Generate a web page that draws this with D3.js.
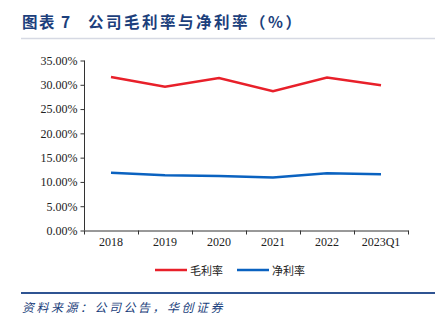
<!DOCTYPE html>
<html><head><meta charset="utf-8">
<script src="https://cdn.jsdelivr.net/npm/d3@7"></script>
<style>body{margin:0;background:#fff}svg{display:block}</style>
</head><body>
<svg id="c" width="446" height="322"></svg>
<script>
const categories = ["2018","2019","2020","2021","2022","2023Q1"];
const grossMargin = [31.6, 29.6, 31.4, 28.7, 31.5, 29.9];
const netMargin = [11.9, 11.4, 11.2, 10.9, 11.8, 11.6];
const yTicks = [0,5,10,15,20,25,30,35];
const seriesNames = ["毛利率","净利率"];
const colors = ["#e8202a","#0a62c0"];

const svg = d3.select("#c");
const serif = "'Liberation Serif','Times New Roman',serif";
const cjk = "'Noto Sans CJK SC',sans-serif";

// title
svg.append("text").attr("x",22).attr("y",28).attr("fill","#1c3f7c")
  .attr("font-family",cjk).attr("font-weight","bold").attr("font-size",15.5)
  .attr("letter-spacing",1.5).attr("xml:space","preserve").text("图表 7");
svg.append("text").attr("x",88).attr("y",28).attr("fill","#1c3f7c")
  .attr("font-family",cjk).attr("font-weight","bold").attr("font-size",15.5)
  .attr("letter-spacing",2.5).text("公司毛利率与净利率（%）");
svg.append("line").attr("x1",21).attr("x2",435).attr("y1",38.5).attr("y2",38.5)
  .attr("stroke","#d6d9e3").attr("stroke-width",1.5);

const x = d3.scaleBand().domain(categories).range([84,408]);
const y = d3.scaleLinear().domain([0,35]).range([230.5,60.5]);

const yAxis = svg.append("g").attr("transform","translate(84.5,0)")
  .call(d3.axisLeft(y).tickValues(yTicks).tickSize(4).tickFormat(d=>d.toFixed(2)+"%"));
const xAxis = svg.append("g").attr("transform","translate(0,230.5)")
  .call(d3.axisBottom(x).tickSize(0).tickPadding(7));
// x ticks at band boundaries
const bounds = categories.map(c=>x(c)).concat([x.range()[1]]);
xAxis.selectAll(".bt").data(bounds).enter().append("line")
  .attr("x1",d=>Math.round(d)+0.5).attr("x2",d=>Math.round(d)+0.5).attr("y1",0).attr("y2",4)
  .attr("stroke","#333");
[yAxis,xAxis].forEach(g=>{
  g.selectAll("path.domain").attr("stroke","#333");
  g.selectAll(".tick line").attr("stroke","#333");
  g.selectAll("text").attr("font-family",serif).attr("font-size",12).attr("fill","#222");
});
yAxis.selectAll("path.domain").attr("d","M0,60.5V230.5");

const line = d3.line().x((d,i)=>x(categories[i])+x.bandwidth()/2).y(d=>y(d));
[grossMargin,netMargin].forEach((s,i)=>{
  svg.append("path").datum(s).attr("d",line).attr("fill","none")
    .attr("stroke",colors[i]).attr("stroke-width",2.5).attr("stroke-linejoin","miter");
});

// legend
const lg = svg.append("g");
const lx = [155,237];
seriesNames.forEach((n,i)=>{
  lg.append("line").attr("x1",lx[i]).attr("x2",lx[i]+32).attr("y1",270).attr("y2",270)
    .attr("stroke",colors[i]).attr("stroke-width",2.5);
  lg.append("text").attr("x",lx[i]+35).attr("y",274.5).attr("font-family",cjk)
    .attr("font-size",11).attr("fill","#222").text(n);
});

// bottom rule and source
svg.append("line").attr("x1",21).attr("x2",435).attr("y1",293).attr("y2",293)
  .attr("stroke","#2f5492").attr("stroke-width",2);
svg.append("text").attr("x",22).attr("y",312).attr("fill","#1c3f7c")
  .attr("font-family",cjk).attr("font-style","italic").attr("font-size",12)
  .attr("letter-spacing",2.5).text("资料来源：公司公告，华创证券");
</script>
</body></html>
